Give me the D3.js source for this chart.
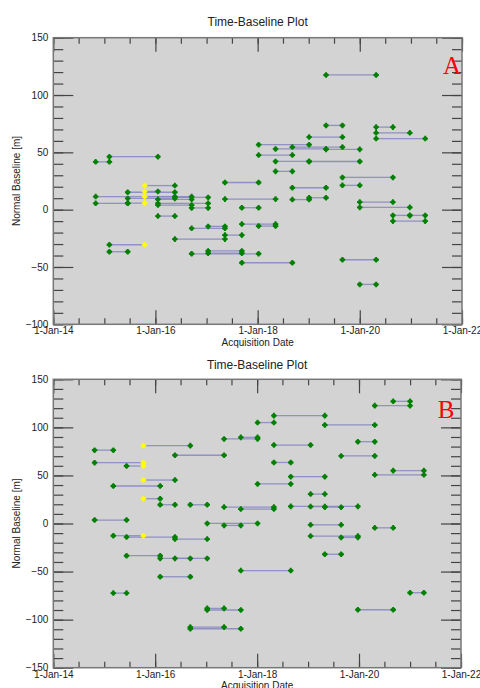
<!DOCTYPE html>
<html><head><meta charset="utf-8">
<script src="https://cdn.jsdelivr.net/npm/d3@7"></script>
<style>
html,body{margin:0;padding:0;background:#fff;}
</style></head>
<body><svg id="chart" width="480" height="688"></svg>
<script>
// ---------- DATA ----------
// Acquisition dates (panel A)
const datesA = ["2014-10-31","2015-02-06","2015-06-17","2015-10-16","2016-01-19","2016-05-19",
  "2016-09-16","2017-01-12","2017-05-12","2017-09-10","2018-01-08","2018-05-09","2018-09-06",
  "2019-01-04","2019-05-05","2019-08-30","2020-01-01","2020-04-27","2020-08-25","2020-12-24","2021-04-13"];
// Pairs: [start date index, end date index, normal baseline (m)]
const pairsA = [
  [14,17,117.5],[14,15,73.5],[17,18,72],[17,19,67],[13,15,63.3],[17,20,62],
  [10,13,56.7],[12,15,54.6],[11,14,53],[14,16,52.6],[1,4,46.2],[10,12,47.6],
  [0,1,41.7],[11,13,42.1],[13,16,42],[11,12,33.4],[15,18,28.1],[8,10,23.7],
  [15,16,21.2],[3,5,21],[12,14,19.1],[2,5,15.2],[3,4,15.9],[0,6,11.4],[3,5,11.4],
  [5,7,10.7],[13,14,10.4],[2,5,9.8],[4,6,9.0],[8,11,9.2],[12,13,8.8],[16,18,6.6],
  [0,2,5.5],[2,3,5.7],[4,7,5.5],[4,6,4.0],[16,19,2.0],[9,10,1.7],[6,7,1.5],
  [4,5,-5.6],[18,19,-5],[19,20,-5],[18,20,-10],[9,11,-12.6],[10,11,-14.3],
  [7,8,-14.6],[6,8,-16.3],[8,9,-22.2],[5,8,-25.7],[1,3,-30.6],[1,2,-36.7],
  [7,9,-36],[6,10,-38.5],[7,9,-38],[15,17,-43.7],[9,12,-46.3],[16,17,-65.2]
];
const highlightA = "2015-10-16";

// Acquisition dates (panel B)
const datesB = ["2014-10-24","2015-03-07","2015-06-10","2015-10-09","2016-02-06","2016-05-22",
  "2016-09-09","2017-01-08","2017-05-09","2017-09-06","2018-01-04","2018-05-01","2018-08-30",
  "2019-01-19","2019-05-01","2019-08-26","2019-12-24","2020-04-23","2020-09-02","2021-01-01","2021-04-10"];
const pairsB = [
  [18,19,127.1],[17,19,122.6],[11,14,112.2],[10,11,105],[14,17,102.5],[9,10,89.6],
  [8,10,88],[16,17,85.1],[3,6,81],[11,13,81.6],[0,1,76.3],[5,8,71],[15,17,70.3],
  [0,3,63.3],[11,12,63.5],[2,3,59.8],[18,20,55],[17,20,50.6],[12,14,48.7],[3,5,45.2],
  [10,12,41.2],[1,4,39],[13,14,30.6],[3,4,25.8],[4,5,19.5],[6,7,19.5],[8,11,17.1],
  [9,11,15],[12,16,17.8],[13,14,17.6],[14,15,17.0],[0,2,3.6],[7,10,0.1],[8,9,-2],
  [13,15,-1.4],[17,18,-4.5],[1,3,-12.7],[2,5,-14.1],[5,7,-16.2],[13,16,-13.1],
  [15,16,-14.5],[14,15,-32],[2,4,-33.5],[4,7,-36.3],[5,6,-36.3],[9,12,-49],
  [4,6,-55.4],[1,2,-72.4],[19,20,-72],[7,8,-88.3],[7,9,-90],[16,18,-89.7],
  [6,8,-107.8],[6,9,-109.5]
];
const highlightB = "2015-10-09";

const titleText = "Time-Baseline Plot";
const xTitle = "Acquisition Date";
const yTitle = "Normal Baseline [m]";
const xDomain = ["2014-01-01","2022-01-01"];
const yDomainA = [-100,150];
const yDomainB = [-150,150];

// ---------- DRAW ----------
const parse = d3.timeParse("%Y-%m-%d");
const svg = d3.select("#chart");
const SANS = "'Liberation Sans', Arial, Helvetica, sans-serif";
const SERIF = "'Liberation Serif', 'Times New Roman', serif";

function panel(cfg){
  const {dates, pairs, highlight, yDomain, left, right, top, bottom, letter, letterX, letterY, titleY, xtitleY} = cfg;
  const g = svg.append("g");
  const x = d3.scaleTime().domain(xDomain.map(parse)).range([left,right]);
  const y = d3.scaleLinear().domain(yDomain).range([bottom,top]);

  g.append("rect").attr("x",left).attr("y",top).attr("width",right-left).attr("height",bottom-top)
    .attr("fill","#d3d3d3");

  const majorX = d3.timeYear.every(2).range(parse(xDomain[0]), d3.timeDay.offset(parse(xDomain[1]),1));
  const minorX = d3.timeMonth.every(6).range(parse(xDomain[0]), d3.timeDay.offset(parse(xDomain[1]),1));
  const majorY = d3.range(yDomain[0], yDomain[1]+1, 50);
  const minorY = d3.range(yDomain[0], yDomain[1]+1, 10);
  const fmt = d3.timeFormat("%-d-%b-%y");

  const style = sel => { sel.select(".domain").remove(); sel.selectAll("line").attr("stroke","#444").attr("stroke-width",1.2); };

  // minor ticks
  g.append("g").attr("transform",`translate(${left},0)`).call(d3.axisLeft(y).tickValues(minorY).tickSize(-10).tickFormat("")).call(style);
  g.append("g").attr("transform",`translate(${right},0)`).call(d3.axisRight(y).tickValues(minorY).tickSize(-10).tickFormat("")).call(style);
  g.append("g").attr("transform",`translate(0,${bottom})`).call(d3.axisBottom(x).tickValues(minorX).tickSize(-6).tickFormat("")).call(style);
  g.append("g").attr("transform",`translate(0,${top})`).call(d3.axisTop(x).tickValues(minorX).tickSize(-6).tickFormat("")).call(style);
  // major ticks with labels
  const yl = g.append("g").attr("transform",`translate(${left},0)`)
    .call(d3.axisLeft(y).tickValues(majorY).tickSize(-20).tickPadding(5)).call(style);
  yl.selectAll("text").attr("font-size",10).attr("fill","#222").style("font-family",SANS);
  g.append("g").attr("transform",`translate(${right},0)`).call(d3.axisRight(y).tickValues(majorY).tickSize(-20).tickFormat("")).call(style);
  const xl = g.append("g").attr("transform",`translate(0,${bottom})`)
    .call(d3.axisBottom(x).tickValues(majorX).tickSize(-14).tickPadding(3).tickFormat(fmt)).call(style);
  xl.selectAll("text").attr("font-size",10).attr("fill","#222").style("font-family",SANS);
  g.append("g").attr("transform",`translate(0,${top})`).call(d3.axisTop(x).tickValues(majorX).tickSize(-14).tickFormat("")).call(style);

  // frame
  g.append("rect").attr("x",left).attr("y",top).attr("width",right-left).attr("height",bottom-top)
    .attr("fill","none").attr("stroke","#777").attr("stroke-width",1.5);

  // pair lines
  g.append("g").selectAll("line").data(pairs).join("line")
    .attr("x1",d=>x(parse(dates[d[0]]))).attr("x2",d=>x(parse(dates[d[1]])))
    .attr("y1",d=>y(d[2])).attr("y2",d=>y(d[2]))
    .attr("stroke","#8585c2").attr("stroke-opacity",0.85).attr("stroke-width",1.3);

  // points
  const pts = [];
  pairs.forEach(p=>{ pts.push([dates[p[0]],p[2]]); pts.push([dates[p[1]],p[2]]); });
  pts.sort((a,b)=> (a[0]===highlight) - (b[0]===highlight));
  g.append("g").selectAll("path").data(pts).join("path")
    .attr("transform",d=>`translate(${x(parse(d[0]))},${y(d[1])})`)
    .attr("d", d3.symbol().type(d3.symbolCircle).size(15))
    .attr("fill",d=> d[0]===highlight ? "#ffff00" : "#008000");
  g.append("g").selectAll("path").data(pts).join("path")
    .attr("transform",d=>`translate(${x(parse(d[0]))},${y(d[1])})`)
    .attr("d", d3.symbol().type(d3.symbolCross).size(17))
    .attr("fill",d=> d[0]===highlight ? "#ffff00" : "#008000");

  // titles
  g.append("text").attr("x",(left+right)/2).attr("y",titleY).attr("text-anchor","middle")
    .style("font-family",SANS).attr("font-size",12).attr("fill","#222").text(titleText);
  g.append("text").attr("x",(left+right)/2).attr("y",xtitleY).attr("text-anchor","middle")
    .style("font-family",SANS).attr("font-size",10).attr("fill","#222").text(xTitle);
  g.append("text").attr("transform",`translate(20,${(top+bottom)/2}) rotate(-90)`).attr("text-anchor","middle")
    .style("font-family",SANS).attr("font-size",10).attr("fill","#222").text(yTitle);
  g.append("text").attr("x",letterX).attr("y",letterY).attr("text-anchor","middle")
    .style("font-family",SERIF).attr("font-size",25)
    .attr("fill","#ff0000").text(letter);
}

panel({dates:datesA, pairs:pairsA, highlight:highlightA, yDomain:yDomainA,
  left:53.3, right:462, top:37.7, bottom:324.3, letter:"A", letterX:452, letterY:74,
  titleY:25.5, xtitleY:346});
panel({dates:datesB, pairs:pairsB, highlight:highlightB, yDomain:yDomainB,
  left:53.3, right:461, top:379.3, bottom:667.7, letter:"B", letterX:446, letterY:417.5,
  titleY:368.5, xtitleY:689});
</script>
</body></html>
